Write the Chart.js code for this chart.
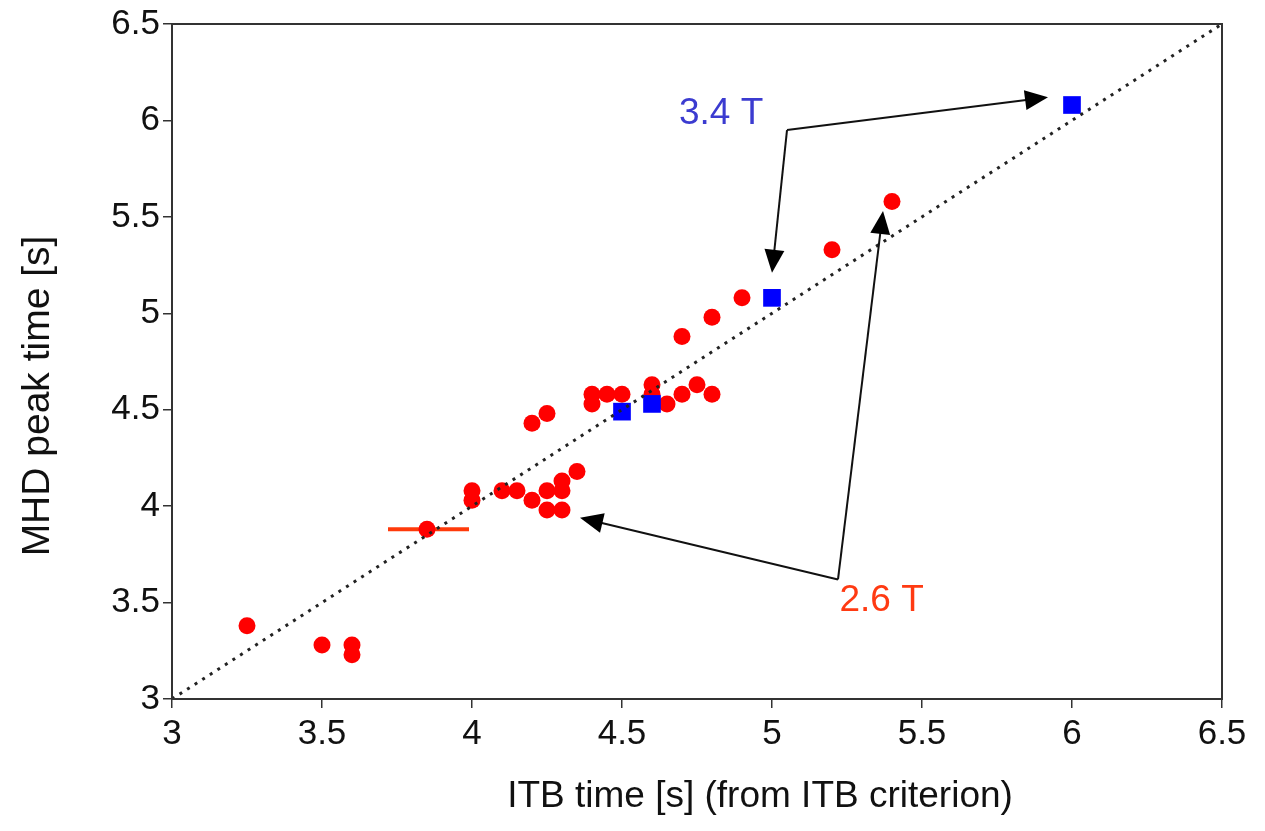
<!DOCTYPE html>
<html>
<head>
<meta charset="utf-8">
<script src="https://cdn.jsdelivr.net/npm/chart.js@4"></script>
<style>
  html, body { margin: 0; padding: 0; background: #fff; }
  #wrap { width: 1265px; height: 831px; }
</style>
</head>
<body>
<div id="wrap"><canvas id="chart"></canvas></div>
<script>
// 2.6 T shots
const lowFieldX = [3.25, 3.5, 3.6, 3.6, 3.85, 4.0, 4.0, 4.1, 4.15, 4.2, 4.25, 4.25, 4.3, 4.3, 4.3, 4.35,
  4.2, 4.25, 4.4, 4.4, 4.45, 4.5, 4.6, 4.6, 4.65, 4.7, 4.75, 4.8, 4.7, 4.8, 4.9, 5.2, 5.4];
const lowFieldY = [3.38, 3.28, 3.28, 3.23, 3.88, 4.08, 4.03, 4.08, 4.08, 4.03, 4.08, 3.98, 3.98, 4.08, 4.13, 4.18,
  4.43, 4.48, 4.58, 4.53, 4.58, 4.58, 4.63, 4.58, 4.53, 4.58, 4.63, 4.58, 4.88, 4.98, 5.08, 5.33, 5.58];

// 3.4 T shots
const highFieldX = [4.5, 4.6, 5.0, 6.0];
const highFieldY = [4.49, 4.53, 5.08, 6.08];

// horizontal uncertainty on the ITB time
const errY = [3.88];
const errLow = [3.72];
const errHigh = [3.99];

const axisTicks = [3, 3.5, 4, 4.5, 5, 5.5, 6, 6.5];

const xTitle = 'ITB time [s] (from ITB criterion)';
const yTitle = 'MHD peak time [s]';

// callouts: label anchor, elbow, arrow tips (data units)
const callouts = [
  { text: '3.4 T', color: '#3b3bd0', at: [4.69, 6.035], elbow: [5.05, 5.95], tips: [[5.92, 6.12], [5.0, 5.21]] },
  { text: '2.6 T', color: '#ff3a12', at: [5.225, 3.51], elbow: [5.22, 3.62], tips: [[4.36, 3.94], [5.37, 5.53]] }
];

const FONT = "'Liberation Sans', Arial, sans-serif";

const toPoints = (xs, ys) => xs.map((x, i) => ({ x, y: ys[i] }));

const frame = {
  id: 'frame',
  afterDraw(chart) {
    const { ctx, chartArea: a } = chart;
    ctx.save();
    ctx.strokeStyle = '#333';
    ctx.lineWidth = 2;
    ctx.strokeRect(a.left, a.top, a.right - a.left, a.bottom - a.top);
    ctx.restore();
  }
};

// axis titles sit a little right of / below the plot centre
const axisTitles = {
  id: 'axisTitles',
  afterDraw(chart) {
    const { ctx } = chart;
    ctx.save();
    ctx.fillStyle = '#111';
    ctx.font = '37px ' + FONT;
    ctx.textAlign = 'center';
    ctx.textBaseline = 'middle';
    ctx.fillText(xTitle, 760, 797);
    ctx.translate(38, 396);
    ctx.rotate(-Math.PI / 2);
    ctx.font = '39px ' + FONT;
    ctx.fillText(yTitle, 0, 0);
    ctx.restore();
  }
};

const errorBars = {
  id: 'errorBars',
  beforeDatasetsDraw(chart) {
    const { ctx, scales: { x, y } } = chart;
    ctx.save();
    ctx.strokeStyle = '#ff3a0a';
    ctx.lineWidth = 4;
    errY.forEach((v, i) => {
      const py = y.getPixelForValue(v);
      ctx.beginPath();
      ctx.moveTo(x.getPixelForValue(errLow[i]), py);
      ctx.lineTo(x.getPixelForValue(errHigh[i]), py);
      ctx.stroke();
    });
    ctx.restore();
  }
};

function arrowHead(ctx, fx, fy, tx, ty) {
  const ang = Math.atan2(ty - fy, tx - fx);
  const len = 23, half = 10;
  ctx.beginPath();
  ctx.moveTo(tx, ty);
  ctx.lineTo(tx - len * Math.cos(ang) + half * Math.sin(ang), ty - len * Math.sin(ang) - half * Math.cos(ang));
  ctx.lineTo(tx - len * Math.cos(ang) - half * Math.sin(ang), ty - len * Math.sin(ang) + half * Math.cos(ang));
  ctx.closePath();
  ctx.fill();
}

const calloutPlugin = {
  id: 'callouts',
  afterDraw(chart) {
    const { ctx, scales: { x, y } } = chart;
    ctx.save();
    callouts.forEach(c => {
      const ex = x.getPixelForValue(c.elbow[0]);
      const ey = y.getPixelForValue(c.elbow[1]);
      ctx.strokeStyle = '#111';
      ctx.fillStyle = '#000';
      ctx.lineWidth = 2;
      c.tips.forEach(t => {
        const tx = x.getPixelForValue(t[0]);
        const ty = y.getPixelForValue(t[1]);
        const ang = Math.atan2(ty - ey, tx - ex);
        ctx.beginPath();
        ctx.moveTo(ex, ey);
        ctx.lineTo(tx - 16 * Math.cos(ang), ty - 16 * Math.sin(ang));
        ctx.stroke();
        arrowHead(ctx, ex, ey, tx, ty);
      });
      ctx.fillStyle = c.color;
      ctx.font = '37px ' + FONT;
      ctx.textAlign = 'left';
      ctx.textBaseline = 'middle';
      ctx.fillText(c.text, x.getPixelForValue(c.at[0]), y.getPixelForValue(c.at[1]));
    });
    ctx.restore();
  }
};

const axisStyle = (fitKey, fitValue) => ({
  type: 'linear',
  min: 3,
  max: 6.5,
  afterBuildTicks: scale => { scale.ticks = axisTicks.map(v => ({ value: v })); },
  afterFit: scale => { scale[fitKey] = fitValue; },
  grid: { display: true, drawOnChartArea: false, drawTicks: true, tickLength: 9, tickColor: '#333', lineWidth: 1.5 },
  border: { display: true, color: '#333', width: 2 },
  ticks: {
    color: '#111',
    font: { family: FONT, size: 35 },
    padding: fitKey === 'width' ? 3 : 5,
    callback: v => String(v)
  }
});

new Chart(document.getElementById('chart'), {
  type: 'scatter',
  data: {
    datasets: [
      {
        type: 'line',
        data: [{ x: 3, y: 3 }, { x: 6.5, y: 6.5 }],
        borderColor: '#222',
        borderWidth: 3,
        borderDash: [3, 6],
        pointRadius: 0,
        order: 0
      },
      {
        label: '3.4 T',
        data: toPoints(highFieldX, highFieldY),
        pointStyle: 'rect',
        pointRadius: 12.5,
        backgroundColor: '#0000ff',
        borderWidth: 0,
        order: 1
      },
      {
        label: '2.6 T',
        data: toPoints(lowFieldX, lowFieldY),
        pointStyle: 'circle',
        pointRadius: 8.5,
        backgroundColor: '#ff0000',
        borderWidth: 0,
        order: 2
      }
    ]
  },
  options: {
    responsive: true,
    maintainAspectRatio: false,
    animation: false,
    layout: { padding: { top: 2, right: 43, left: 0, bottom: 0 } },
    plugins: {
      legend: { display: false },
      tooltip: { enabled: false }
    },
    scales: {
      x: axisStyle('height', 132),
      y: axisStyle('width', 172)
    }
  },
  plugins: [frame, errorBars, calloutPlugin, axisTitles]
});
</script>
</body>
</html>
